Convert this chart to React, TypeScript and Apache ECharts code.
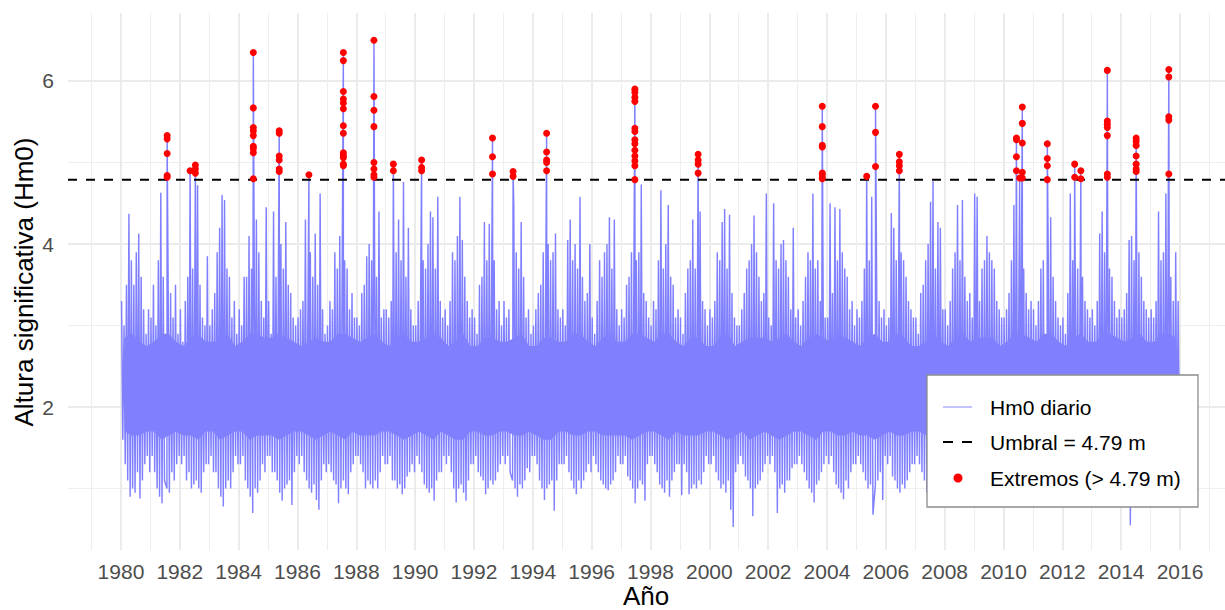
import React, { useEffect, useRef } from "react";
import * as echarts from "echarts";

const FONT = '"Liberation Sans", Arial, sans-serif';
const startYear = 1980;

// Monthly upper envelope of daily Hm0 (m), Jan..Dec, one row per year 1980..2015
const monthlyMax: number[] = [
  3.3, 3.0, 3.5, 4.37, 3.8, 3.5, 3.9, 4.13, 3.6, 3.2, 2.9, 3.2,
  3.1, 3.5, 3.0, 3.8, 4.63, 3.6, 3.9, 3.5, 3.4, 3.1, 3.5, 2.9,
  3.2, 2.8, 3.3, 3.6, 3.9, 3.7, 4.0, 4.72, 3.5, 3.1, 3.0, 3.85,
  3.0, 3.2, 3.4, 3.9, 4.2, 4.6, 4.54, 3.7, 3.6, 3.1, 3.3, 2.9,
  3.2, 3.0, 3.6, 3.6, 4.1, 3.7, 3.5, 4.3, 3.9, 3.3, 3.1, 4.45,
  3.3, 2.9, 4.4, 3.6, 3.8, 4.0, 3.7, 4.27, 3.5, 3.4, 3.1, 3.0,
  3.1, 3.2, 3.3, 4.3, 3.7, 3.9, 3.6, 4.13, 3.5, 4.62, 3.2, 2.9,
  3.0, 3.3, 3.2, 3.9, 3.7, 4.1, 4.33, 3.8, 3.7, 3.2, 3.4, 3.1,
  3.1, 3.0, 3.4, 3.5, 3.85, 4.0, 3.8, 4.48, 3.6, 4.4, 3.1, 3.2,
  3.2, 3.1, 3.3, 3.7, 3.9, 4.3, 3.8, 4.76, 3.6, 4.2, 3.2, 3.0,
  3.0, 3.3, 3.4, 3.8, 3.7, 4.0, 4.4, 4.33, 3.7, 4.58, 3.3, 3.1,
  3.2, 3.0, 3.3, 3.9, 3.8, 4.1, 4.58, 4.05, 3.6, 3.3, 3.1, 3.2,
  3.1, 2.9, 3.5, 3.6, 4.27, 3.8, 4.25, 3.7, 3.8, 3.2, 3.3, 3.0,
  3.3, 3.1, 3.2, 3.8, 4.46, 3.9, 3.7, 4.27, 3.6, 3.1, 3.2, 2.9,
  3.0, 3.2, 3.4, 3.5, 3.9, 3.7, 4.0, 3.8, 3.9, 4.13, 3.2, 3.1,
  3.2, 3.0, 4.05, 4.3, 3.8, 4.0, 3.7, 4.58, 3.6, 3.3, 3.4, 4.0,
  3.1, 2.9, 3.3, 3.8, 3.6, 3.9, 4.0, 4.33, 3.7, 4.3, 3.2, 3.0,
  3.2, 3.1, 3.5, 3.6, 3.9, 4.1, 3.8, 3.9, 4.73, 3.4, 3.3, 3.1,
  3.0, 3.3, 3.2, 3.8, 4.66, 3.7, 4.0, 4.48, 3.6, 3.5, 3.1, 3.2,
  3.1, 2.9, 3.4, 3.7, 3.8, 4.3, 3.7, 3.9, 4.4, 3.3, 3.2, 3.0,
  3.2, 3.1, 3.3, 3.9, 3.8, 4.27, 4.43, 3.7, 4.36, 3.4, 3.1, 3.0,
  3.0, 3.2, 3.4, 3.7, 3.8, 4.0, 4.35, 3.9, 3.6, 3.3, 3.4, 4.62,
  3.1, 3.0, 4.5, 3.8, 3.7, 4.0, 4.05, 3.8, 3.6, 3.2, 4.2, 3.1,
  3.2, 3.0, 3.3, 3.6, 3.9, 3.8, 4.62, 3.7, 3.8, 3.3, 3.4, 3.1,
  3.1, 4.5, 3.4, 4.45, 3.8, 4.43, 3.9, 3.7, 3.6, 3.2, 3.3, 3.0,
  3.2, 3.1, 3.3, 3.7, 4.66, 3.8, 4.58, 3.9, 3.6, 3.3, 3.1, 3.2,
  3.0, 3.1, 4.38, 4.2, 3.8, 3.7, 3.9, 3.8, 3.6, 3.3, 3.2, 3.1,
  3.1, 2.9, 3.4, 3.5, 3.8, 4.0, 4.52, 4.77, 3.7, 4.27, 4.2, 3.2,
  3.2, 3.0, 3.3, 3.7, 3.9, 4.48, 3.8, 4.54, 3.6, 3.3, 3.4, 3.1,
  4.62, 4.58, 3.3, 3.7, 3.8, 4.1, 3.9, 3.8, 3.7, 3.3, 3.2, 3.1,
  3.1, 3.2, 3.4, 3.8, 4.48, 3.9, 4.1, 3.8, 3.7, 3.4, 3.2, 3.3,
  3.2, 3.0, 3.3, 3.7, 3.8, 4.54, 3.9, 4.33, 3.6, 3.3, 3.1, 3.0,
  3.1, 2.9, 3.4, 4.62, 3.8, 3.9, 3.7, 4.27, 3.6, 3.3, 3.2, 3.1,
  3.2, 3.0, 3.3, 4.13, 4.4, 3.9, 3.8, 3.7, 3.6, 3.3, 3.1, 3.2,
  3.1, 3.2, 3.4, 4.05, 4.1, 3.8, 3.7, 3.9, 3.6, 3.3, 3.2, 3.1,
  3.2, 3.1, 3.3, 4.4, 3.8, 3.9, 4.62, 3.7, 3.6, 3.3, 3.9, 3.3,
];

// Monthly lower envelope of daily Hm0 (m)
const monthlyMin: number[] = [
  1.6, 1.3, 1.1, 0.9, 1.0, 0.95, 1.2, 0.88, 1.1, 1.3, 1.4, 1.2,
  1.4, 1.2, 1.0, 0.9, 0.82, 1.1, 1.0, 0.95, 1.2, 1.1, 1.3, 1.4,
  1.3, 1.4, 1.1, 1.2, 1.0, 1.05, 1.1, 1.0, 0.95, 1.2, 1.3, 1.3,
  1.4, 1.2, 1.2, 1.0, 0.9, 0.78, 1.0, 1.1, 1.0, 1.2, 1.4, 1.3,
  1.3, 1.4, 1.1, 1.0, 0.9, 0.7, 1.0, 0.95, 1.1, 1.3, 1.2, 1.4,
  1.4, 1.2, 1.2, 1.1, 0.95, 0.85, 1.0, 1.05, 1.1, 0.8, 1.2, 1.4,
  1.3, 1.4, 1.2, 1.1, 1.0, 0.95, 1.05, 0.86, 0.74, 1.1, 1.3, 1.2,
  1.3, 1.2, 1.1, 1.05, 0.82, 1.0, 1.1, 1.0, 0.93, 1.2, 1.3, 1.4,
  1.4, 1.3, 1.2, 1.0, 1.1, 1.05, 1.0, 1.1, 1.0, 1.2, 1.4, 1.3,
  1.3, 1.4, 1.1, 1.1, 1.0, 1.05, 0.93, 1.0, 1.15, 1.2, 1.3, 1.2,
  1.4, 1.3, 1.2, 1.05, 1.0, 0.95, 1.0, 0.85, 1.1, 1.2, 1.2, 1.4,
  1.3, 1.4, 1.2, 1.0, 0.83, 1.0, 1.05, 0.95, 0.85, 1.1, 1.3, 1.3,
  1.4, 1.2, 1.15, 1.1, 0.93, 1.0, 1.1, 1.05, 1.1, 1.2, 1.3, 1.4,
  1.3, 1.4, 1.2, 1.1, 1.0, 0.9, 1.05, 1.0, 1.1, 1.25, 1.2, 1.4,
  1.4, 1.3, 1.1, 1.0, 0.86, 1.0, 1.05, 1.1, 0.73, 1.1, 1.3, 1.3,
  1.3, 1.4, 1.2, 1.1, 1.0, 0.93, 1.1, 1.0, 1.1, 1.2, 1.3, 1.2,
  1.4, 1.3, 1.2, 1.1, 1.05, 1.0, 0.98, 1.05, 1.1, 1.2, 1.4, 1.3,
  1.3, 1.4, 1.15, 1.1, 1.0, 0.82, 1.0, 1.1, 1.05, 0.85, 1.3, 1.4,
  1.4, 1.3, 1.2, 1.05, 1.0, 0.95, 1.1, 0.9, 1.1, 1.2, 1.3, 1.3,
  0.92, 1.3, 1.2, 0.93, 1.0, 1.05, 1.0, 1.1, 1.05, 1.2, 1.4, 1.3,
  1.3, 1.4, 1.2, 1.1, 1.0, 1.05, 0.95, 1.1, 0.74, 0.53, 1.2, 1.3,
  1.4, 1.3, 1.15, 1.1, 1.0, 0.66, 1.0, 1.05, 1.1, 1.2, 1.3, 1.4,
  1.3, 1.4, 1.2, 0.7, 1.0, 1.05, 0.95, 1.1, 1.1, 1.25, 1.3, 1.3,
  1.4, 1.3, 1.2, 1.1, 1.0, 0.95, 0.83, 1.05, 1.1, 1.2, 1.3, 1.4,
  1.3, 1.4, 1.2, 1.05, 1.0, 0.95, 0.87, 1.1, 1.0, 1.2, 1.3, 1.3,
  1.4, 1.3, 1.2, 1.1, 1.0, 1.05, 0.68, 1.05, 1.1, 1.2, 0.86, 1.4,
  1.3, 1.4, 1.15, 1.1, 1.0, 0.95, 1.05, 1.0, 1.1, 1.2, 1.3, 1.3,
  1.4, 1.3, 1.2, 1.1, 0.95, 1.0, 1.05, 1.1, 0.8, 1.2, 1.3, 1.4,
  1.3, 1.4, 1.2, 1.1, 1.0, 0.95, 1.0, 1.05, 1.1, 1.2, 1.3, 1.3,
  1.4, 1.3, 1.2, 1.05, 1.0, 1.0, 0.95, 1.05, 1.1, 1.2, 1.3, 1.4,
  1.3, 1.4, 1.2, 1.1, 1.0, 0.95, 1.0, 1.05, 1.1, 1.2, 1.3, 1.3,
  1.4, 1.3, 1.2, 1.1, 1.0, 0.95, 1.0, 1.05, 1.1, 1.2, 1.3, 1.4,
  1.3, 1.4, 1.2, 1.1, 1.0, 0.95, 1.0, 1.05, 1.1, 1.2, 1.3, 1.3,
  1.4, 1.3, 1.2, 1.1, 1.0, 0.95, 1.0, 1.05, 1.1, 1.2, 1.3, 1.4,
  1.3, 1.4, 1.2, 0.55, 1.0, 0.95, 1.0, 1.05, 1.1, 1.2, 1.3, 1.3,
  1.4, 1.3, 1.2, 1.1, 1.0, 0.95, 1.0, 1.05, 1.1, 1.2, 1.3, 1.6,
];

// Quarterly dense core of the daily series: top and bottom (m), Q1..Q4 per year
const coreTop: number[] = [
  2.85, 2.9, 2.8, 2.75,  2.8, 2.9, 2.9, 2.8,  2.75, 2.85, 2.9, 2.8,  2.8, 2.8, 2.9, 2.75,
  2.8, 2.9, 2.9, 2.85,  2.85, 2.9, 2.85, 2.8,  2.75, 2.8, 2.85, 2.8,  2.8, 2.9, 2.9, 2.85,
  2.8, 2.85, 2.9, 2.8,  2.75, 2.85, 2.9, 2.8,  2.8, 2.85, 2.9, 2.85,  2.75, 2.8, 2.9, 2.75,
  2.75, 2.85, 2.85, 2.8,  2.8, 2.85, 2.9, 2.75,  2.75, 2.85, 2.85, 2.8,  2.8, 2.9, 2.9, 2.8,
  2.75, 2.85, 2.9, 2.8,  2.8, 2.9, 2.9, 2.85,  2.8, 2.9, 2.9, 2.8,  2.75, 2.85, 2.85, 2.75,
  2.75, 2.85, 2.9, 2.75,  2.8, 2.85, 2.85, 2.85,  2.8, 2.85, 2.9, 2.8,  2.75, 2.85, 2.9, 2.85,
  2.8, 2.9, 2.85, 2.8,  2.75, 2.85, 2.9, 2.8,  2.8, 2.9, 2.85, 2.75,  2.75, 2.8, 2.9, 2.8,
  2.75, 2.85, 2.9, 2.8,  2.85, 2.85, 2.85, 2.75,  2.8, 2.9, 2.9, 2.85,  2.8, 2.9, 2.9, 2.8,
  2.75, 2.85, 2.9, 2.8,  2.8, 2.9, 2.9, 2.85,  2.8, 2.85, 2.9, 2.8,  2.8, 2.9, 2.9, 2.85,
];
const coreBottom: number[] = [
  1.7, 1.65, 1.65, 1.7,  1.7, 1.6, 1.65, 1.7,  1.65, 1.65, 1.6, 1.7,  1.7, 1.6, 1.65, 1.7,
  1.7, 1.6, 1.65, 1.65,  1.65, 1.6, 1.65, 1.7,  1.7, 1.65, 1.6, 1.65,  1.7, 1.65, 1.6, 1.7,
  1.65, 1.65, 1.65, 1.7,  1.7, 1.65, 1.6, 1.65,  1.7, 1.65, 1.6, 1.7,  1.65, 1.6, 1.6, 1.7,
  1.7, 1.65, 1.65, 1.7,  1.7, 1.65, 1.65, 1.7,  1.65, 1.6, 1.6, 1.7,  1.7, 1.65, 1.65, 1.7,
  1.7, 1.65, 1.65, 1.65,  1.65, 1.6, 1.65, 1.7,  1.7, 1.65, 1.6, 1.7,  1.65, 1.65, 1.65, 1.7,
  1.7, 1.65, 1.6, 1.65,  1.7, 1.6, 1.65, 1.7,  1.65, 1.6, 1.65, 1.7,  1.7, 1.65, 1.6, 1.7,
  1.7, 1.65, 1.65, 1.7,  1.65, 1.65, 1.6, 1.65,  1.7, 1.65, 1.65, 1.7,  1.7, 1.65, 1.6, 1.7,
  1.7, 1.65, 1.65, 1.7,  1.7, 1.65, 1.65, 1.7,  1.7, 1.65, 1.6, 1.7,  1.7, 1.65, 1.65, 1.7,
  1.7, 1.65, 1.65, 1.7,  1.7, 1.6, 1.65, 1.7,  1.7, 1.65, 1.65, 1.7,  1.7, 1.65, 1.6, 1.7,
];

// Days above the threshold: [decimal year, Hm0]
const extremos: [number, number][] = [
  [1981.57, 5.33], [1981.57, 5.29], [1981.57, 5.11], [1981.57, 4.84], [1981.57, 4.82],
  [1982.35, 4.9], [1982.53, 4.97], [1982.53, 4.92], [1982.53, 4.87],
  [1984.5, 6.35], [1984.5, 5.67], [1984.5, 5.43], [1984.5, 5.39], [1984.5, 5.33], [1984.5, 5.2], [1984.5, 5.17], [1984.5, 5.12], [1984.5, 4.8],
  [1985.38, 5.39], [1985.38, 5.36], [1985.38, 5.08], [1985.38, 5.03], [1985.38, 4.92], [1985.38, 4.89],
  [1986.39, 4.85],
  [1987.56, 6.35], [1987.56, 6.25], [1987.56, 5.87], [1987.56, 5.78], [1987.56, 5.73], [1987.56, 5.66], [1987.56, 5.45], [1987.56, 5.36], [1987.56, 5.12], [1987.56, 5.09], [1987.56, 5.06], [1987.56, 4.98], [1987.56, 4.96],
  [1988.6, 6.5], [1988.6, 5.81], [1988.6, 5.64], [1988.6, 5.44], [1988.6, 5.0], [1988.6, 4.92], [1988.6, 4.85], [1988.6, 4.82],
  [1989.26, 4.98], [1989.26, 4.9],
  [1990.22, 5.03], [1990.22, 4.94], [1990.22, 4.9],
  [1992.63, 5.3], [1992.63, 5.07], [1992.63, 4.86],
  [1993.33, 4.89], [1993.33, 4.83],
  [1994.47, 5.36], [1994.47, 5.13], [1994.47, 5.03], [1994.47, 5.0], [1994.47, 4.9],
  [1997.47, 5.9], [1997.47, 5.86], [1997.47, 5.8], [1997.47, 5.75], [1997.47, 5.42], [1997.47, 5.38], [1997.47, 5.28], [1997.47, 5.23], [1997.47, 5.15], [1997.47, 5.08], [1997.47, 5.02], [1997.47, 4.96], [1997.47, 4.79],
  [1999.62, 5.1], [1999.62, 5.03], [1999.62, 4.98], [1999.62, 4.87],
  [2003.84, 5.69], [2003.84, 5.44], [2003.84, 5.21], [2003.84, 5.19], [2003.84, 4.87], [2003.84, 4.85], [2003.84, 4.82], [2003.84, 4.8],
  [2005.35, 4.83],
  [2005.65, 5.69], [2005.65, 5.37], [2005.65, 4.95],
  [2006.46, 5.1], [2006.46, 5.01], [2006.46, 4.96], [2006.46, 4.9],
  [2010.44, 5.3], [2010.44, 5.28], [2010.44, 5.07], [2010.44, 4.9],
  [2010.55, 4.81],
  [2010.64, 5.68], [2010.64, 5.48], [2010.64, 5.24], [2010.64, 4.88], [2010.64, 4.81],
  [2011.49, 5.23], [2011.49, 5.05], [2011.49, 4.96], [2011.49, 4.79],
  [2012.42, 4.98], [2012.42, 4.82],
  [2012.63, 4.9], [2012.63, 4.8],
  [2013.53, 6.13], [2013.53, 5.51], [2013.53, 5.47], [2013.53, 5.43], [2013.53, 5.33], [2013.53, 4.86], [2013.53, 4.82],
  [2014.51, 5.3], [2014.51, 5.26], [2014.51, 5.21], [2014.51, 5.08], [2014.51, 4.98], [2014.51, 4.92], [2014.51, 4.89],
  [2015.62, 6.14], [2015.62, 6.05], [2015.62, 5.56], [2015.62, 5.52], [2015.62, 4.86],
];

const umbral = 4.79;
const xTickLabels = [1980, 1982, 1984, 1986, 1988, 1990, 1992, 1994, 1996, 1998, 2000, 2002, 2004, 2006, 2008, 2010, 2012, 2014, 2016];
const xMinorGrid = [1979, 1981, 1983, 1985, 1987, 1989, 1991, 1993, 1995, 1997, 1999, 2001, 2003, 2005, 2007, 2009, 2011, 2013, 2015, 2017];
const yTickLabels = [2, 4, 6];
const yMinorGrid = [1, 3, 5];

const X_MIN = 1978.2;
const X_MAX = 2017.53;
const Y_MIN = 0.247;
const Y_MAX = 6.834;

const BLUE = "#8080FF";

function buildLine(): number[][] {
  const out: number[][] = [];
  for (let i = 0; i < monthlyMax.length; i++) {
    const yr = startYear + Math.floor(i / 12);
    const m = i % 12;
    const ex = extremos.filter((e) => Math.floor((e[0] - startYear) * 12 + 1e-9) === i);
    let hx = yr + (m + 0.25) / 12;
    let hy = monthlyMax[i];
    if (ex.length) {
      const top = ex.reduce((a, b) => (b[1] > a[1] ? b : a));
      hx = top[0];
      hy = Math.max(hy, top[1]);
    }
    const lx = yr + (m + 0.75) / 12;
    const hiPt = [hx, hy];
    const loPt = [lx, monthlyMin[i]];
    if (hx <= lx) { out.push(hiPt, loPt); } else { out.push(loPt, hiPt); }
  }
  return out;
}

export default function App() {
  const ref = useRef<HTMLDivElement>(null);
  useEffect(() => {
    const chart = echarts.init(ref.current as HTMLDivElement, null, { renderer: "svg" });

    const gridLines: any[] = [];
    yTickLabels.forEach((v) => gridLines.push({ yAxis: v, lineStyle: { color: "#EBEBEB", width: 2, type: "solid" } }));
    yMinorGrid.forEach((v) => gridLines.push({ yAxis: v, lineStyle: { color: "#EEEEEE", width: 1, type: "solid" } }));
    xTickLabels.forEach((v) => gridLines.push({ xAxis: v, lineStyle: { color: "#EBEBEB", width: 2, type: "solid" } }));
    xMinorGrid.forEach((v) => gridLines.push({ xAxis: v, lineStyle: { color: "#EEEEEE", width: 1, type: "solid" } }));

    const coreX = coreTop.map((_, i) => startYear + Math.floor(i / 4) + ((i % 4) + 0.5) / 4);

    const textStyle = (text: string, size: number, align: string) => ({
      text,
      font: `${size}px ${FONT}`,
      fill: "#000000",
      align,
      verticalAlign: "middle",
      textAlign: align,
      textVerticalAlign: "middle",
    });

    const option: any = {
      animation: false,
      textStyle: { fontFamily: FONT },
      grid: { left: 68, right: 0, top: 13, bottom: 60 },
      xAxis: {
        type: "value",
        min: X_MIN,
        max: X_MAX,
        axisLine: { show: false },
        axisTick: { show: false },
        splitLine: { show: false },
        axisLabel: {
          customValues: xTickLabels,
          formatter: (v: number) => String(Math.round(v)),
          fontSize: 21,
          color: "#4D4D4D",
          margin: 11,
          fontFamily: FONT,
        },
      },
      yAxis: {
        type: "value",
        min: Y_MIN,
        max: Y_MAX,
        axisLine: { show: false },
        axisTick: { show: false },
        splitLine: { show: false },
        axisLabel: {
          customValues: yTickLabels,
          formatter: (v: number) => String(Math.round(v)),
          fontSize: 21,
          color: "#4D4D4D",
          margin: 14,
          fontFamily: FONT,
        },
      },
      series: [
        {
          type: "line",
          name: "grid",
          data: [[X_MIN, Y_MIN]],
          showSymbol: false,
          symbol: "none",
          lineStyle: { width: 0 },
          silent: true,
          z: 0,
          markLine: {
            silent: true,
            symbol: ["none", "none"],
            label: { show: false },
            animation: false,
            z: 0,
            data: gridLines,
          },
        },
        {
          type: "custom",
          name: "core",
          coordinateSystem: "cartesian2d",
          silent: true,
          z: 2,
          data: [[1998, 2]],
          encode: { x: 0, y: 1 },
          renderItem: (_params: any, api: any) => {
            const pts: number[][] = [];
            for (let i = 0; i < coreX.length; i++) pts.push(api.coord([coreX[i], coreTop[i]]));
            for (let i = coreX.length - 1; i >= 0; i--) pts.push(api.coord([coreX[i], coreBottom[i]]));
            return { type: "polygon", shape: { points: pts }, style: { fill: BLUE } };
          },
        },
        {
          type: "line",
          name: "Hm0 diario",
          data: buildLine(),
          showSymbol: false,
          symbol: "none",
          lineStyle: { color: BLUE, width: 1.45 },
          silent: true,
          z: 3,
        },
        {
          type: "line",
          name: "Umbral",
          data: [[X_MIN, umbral], [X_MAX, umbral]],
          showSymbol: false,
          symbol: "none",
          lineStyle: { color: "#000000", width: 2, type: [9, 9] },
          silent: true,
          z: 4,
        },
        {
          type: "scatter",
          name: "Extremos",
          data: extremos,
          symbol: "circle",
          symbolSize: 7,
          itemStyle: { color: "#FF0000", opacity: 1 },
          silent: true,
          z: 5,
        },
      ],
      graphic: [
        {
          type: "text",
          x: 24,
          y: 282,
          rotation: Math.PI / 2,
          z: 100,
          style: textStyle("Altura significativa (Hm0)", 26, "center"),
        },
        {
          type: "text",
          x: 646,
          y: 596,
          z: 100,
          style: textStyle("Año", 26, "center"),
        },
        {
          type: "rect",
          z: 100,
          shape: { x: 927, y: 375, width: 271, height: 132 },
          style: { fill: "#FFFFFF", stroke: "#8C8C8C", lineWidth: 1.3 },
        },
        {
          type: "line",
          z: 101,
          shape: { x1: 943, y1: 407, x2: 972, y2: 407 },
          style: { stroke: "#9C9CFF", lineWidth: 1.2 },
        },
        {
          type: "line",
          z: 101,
          shape: { x1: 943, y1: 442, x2: 972, y2: 442 },
          style: { stroke: "#000000", lineWidth: 2, lineDash: [10, 9] },
        },
        {
          type: "circle",
          z: 101,
          shape: { cx: 958, cy: 478, r: 4.5 },
          style: { fill: "#FF0000" },
        },
        { type: "text", x: 990, y: 407, z: 101, style: textStyle("Hm0 diario", 21, "left") },
        { type: "text", x: 990, y: 442, z: 101, style: textStyle("Umbral = 4.79 m", 21, "left") },
        { type: "text", x: 990, y: 478, z: 101, style: textStyle("Extremos (> 4.79 m)", 21, "left") },
      ],
    };

    chart.setOption(option);
    return () => chart.dispose();
  }, []);

  return (
    <div
      ref={ref}
      style={{ position: "fixed", left: 0, top: 0, width: 1225, height: 610, background: "#FFFFFF" }}
    />
  );
}
